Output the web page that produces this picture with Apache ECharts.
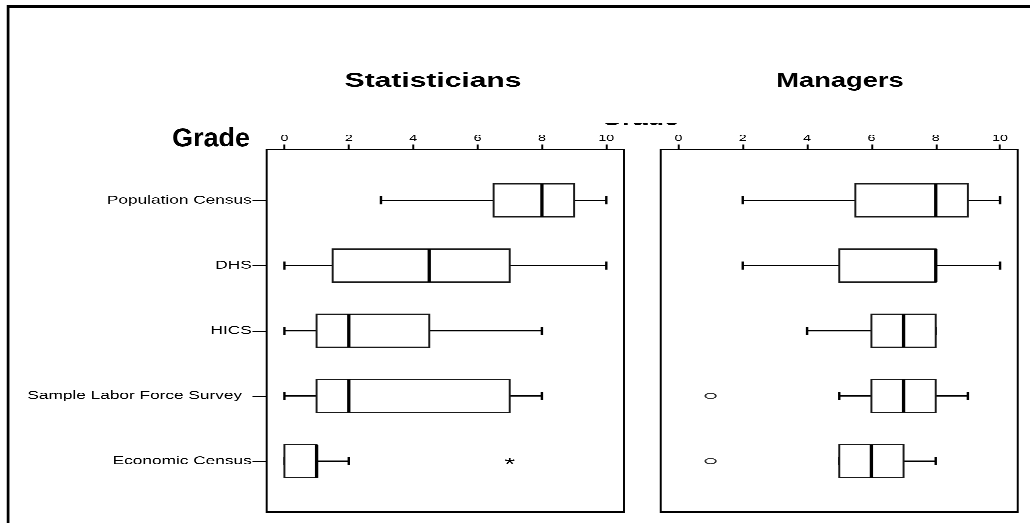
<!DOCTYPE html>
<html>
<head>
<meta charset="utf-8">
<script src="https://cdn.jsdelivr.net/npm/echarts@6/dist/echarts.min.js"></script>
<style>
  html, body { margin: 0; padding: 0; background: #fff; overflow: hidden; }
  /* the chart is laid out narrow and widened horizontally, like the original export */
  #chart { width: 686.667px; height: 523px; transform: scaleX(1.5); transform-origin: 0 0; }
</style>
</head>
<body>
<div id="chart"></div>
<script>
// Survey rows, top to bottom
const categories = ['Population Census', 'DHS', 'HICS', 'Sample Labor Force Survey  ', 'Economic Census'];
const gradeTicks = [0, 2, 4, 6, 8, 10];
const rowTicks = [1, 2, 3, 4, 5];

// Statisticians: five-number summaries per survey
const statMin    = [3,   0,   0,   0, 0];
const statQ1     = [6.5, 1.5, 1,   1, 0];
const statMedian = [8,   4.5, 2,   2, 1];
const statQ3     = [9,   7,   4.5, 7, 1];
const statMax    = [10,  10,  8,   8, 2];
// extreme values [grade, row]
const statExtremes = [[7, 5]];

// Managers: five-number summaries per survey
const mgrMin    = [2,   2, 4, 5, 5];
const mgrQ1     = [5.5, 5, 6, 6, 5];
const mgrMedian = [8,   8, 7, 7, 6];
const mgrQ3     = [9,   8, 8, 8, 7];
const mgrMax    = [10,  10, 8, 9, 8];
// outliers [grade, row]
const mgrOutliers = [[1, 4], [1, 5]];

function boxRows(mins, q1s, meds, q3s, maxs) {
  return categories.map((c, i) => [i + 1, mins[i], q1s[i], meds[i], q3s[i], maxs[i]]);
}

function seg(x1, y1, x2, y2, w) {
  return { type: 'line', shape: { x1, y1, x2, y2 }, style: { stroke: '#000', lineWidth: w } };
}

// whiskers with end caps, box from Q1 to Q3, heavy median bar
function renderBox(params, api) {
  const row = api.value(0);
  const unit = api.size([0, 1])[1];
  const half = unit * 0.253;
  const cap = unit * 0.062;
  const px = v => api.coord([v, row])[0];
  const y = api.coord([0, row])[1];
  const xLo = px(api.value(1)), xQ1 = px(api.value(2)), xMed = px(api.value(3));
  const xQ3 = px(api.value(4)), xHi = px(api.value(5));
  return {
    type: 'group',
    children: [
      seg(xLo, y, xQ1, y, 1.3),
      seg(xQ3, y, xHi, y, 1.3),
      seg(xLo, y - cap, xLo, y + cap, 1.6),
      seg(xHi, y - cap, xHi, y + cap, 1.6),
      { type: 'rect', shape: { x: xQ1, y: y - half, width: xQ3 - xQ1, height: 2 * half },
        style: { fill: '#fff', stroke: '#1a1a1a', lineWidth: 1.3 } },
      seg(xMed, y - half, xMed, y + half, 2.2)
    ]
  };
}

function renderStar(params, api) {
  const pt = api.coord([api.value(0), api.value(1)]);
  return {
    type: 'text', x: pt[0], y: pt[1] + 4,
    style: { text: '*', fontSize: 18, fontFamily: 'Liberation Sans', fill: '#000',
             align: 'center', verticalAlign: 'middle' }
  };
}

const FONT = 'Liberation Sans, Arial, sans-serif';

function gradeAxis(gridIndex) {
  return {
    gridIndex, type: 'value', position: 'top', min: -0.55, max: 10.55,
    splitLine: { show: false },
    axisLine: { show: false, onZero: false },
    axisTick: { show: true, inside: false, customValues: gradeTicks, length: 5, lineStyle: { color: '#000', width: 1.3 } },
    axisLabel: { customValues: gradeTicks, fontSize: 9.5, fontFamily: FONT, color: '#000', margin: 6 }
  };
}

function rowAxis(gridIndex, withLabels) {
  return {
    gridIndex, type: 'value', position: 'left', inverse: true, min: 0.22, max: 5.78,
    splitLine: { show: false },
    axisLine: { show: false, onZero: false },
    axisTick: { show: withLabels, inside: false, customValues: rowTicks, length: 9.5, lineStyle: { color: '#000', width: 1 } },
    axisLabel: { show: withLabels, customValues: rowTicks, fontSize: 11.5, fontFamily: FONT, color: '#000', margin: 10,
                 formatter: v => categories[Math.round(v) - 1] }
  };
}

function titleText(text, x, y, sx) {
  return { type: 'text', x, y, scaleX: sx,
    style: { text, font: 'bold 20px "Liberation Sans", Arial, sans-serif', fill: '#000',
             textAlign: 'center', textVerticalAlign: 'middle' } };
}

const chart = echarts.init(document.getElementById('chart'), null, { renderer: 'canvas', devicePixelRatio: 3 });
chart.setOption({
  animation: false,
  backgroundColor: '#fff',
  grid: [
    { left: 177.8, top: 149.5, width: 238.2, height: 362.5, show: true, borderColor: '#000', borderWidth: 1.3, backgroundColor: 'transparent' },
    { left: 440.5, top: 149.5, width: 238, height: 362.5, show: true, borderColor: '#000', borderWidth: 1.3, backgroundColor: 'transparent' }
  ],
  xAxis: [gradeAxis(0), gradeAxis(1)],
  yAxis: [rowAxis(0, true), rowAxis(1, false)],
  graphic: [
    // outer frame
    { type: 'line', shape: { x1: 5.3, y1: 6.5, x2: 700, y2: 6.5 }, style: { stroke: '#000', lineWidth: 2.4 } },
    { type: 'line', shape: { x1: 5.4, y1: 5.3, x2: 5.4, y2: 540 }, style: { stroke: '#000', lineWidth: 1.8 } },
    titleText('Statisticians', 288.7, 81, 1),
    titleText('Managers', 560, 81, 0.91),
    { type: 'text', x: 140.7, y: 139.3, scaleX: 0.69,
      style: { text: 'Grade', font: 'bold 26px "Liberation Sans", Arial, sans-serif', fill: '#000',
               textAlign: 'center', textVerticalAlign: 'middle' } },
    // second axis title, mostly hidden under the heading band
    { type: 'text', x: 426.7, y: 117.7, scaleX: 0.69, z: 1, z2: 1,
      style: { text: 'Grade', font: 'bold 26px "Liberation Sans", Arial, sans-serif', fill: '#000',
               textAlign: 'center', textVerticalAlign: 'middle' } },
    { type: 'rect', z: 5, z2: 100, shape: { x: 398, y: 95, width: 58, height: 28.3 }, style: { fill: '#ffffff' } }
  ],
  series: [
    { type: 'custom', xAxisIndex: 0, yAxisIndex: 0, renderItem: renderBox,
      encode: { x: [1, 2, 3, 4, 5], y: 0 },
      data: boxRows(statMin, statQ1, statMedian, statQ3, statMax) },
    { type: 'custom', xAxisIndex: 1, yAxisIndex: 1, renderItem: renderBox,
      encode: { x: [1, 2, 3, 4, 5], y: 0 },
      data: boxRows(mgrMin, mgrQ1, mgrMedian, mgrQ3, mgrMax) },
    { type: 'custom', xAxisIndex: 0, yAxisIndex: 0, renderItem: renderStar,
      encode: { x: 0, y: 1 }, data: statExtremes },
    { type: 'scatter', xAxisIndex: 1, yAxisIndex: 1, symbol: 'circle', symbolSize: [7, 5.5],
      itemStyle: { color: '#fff', borderColor: '#000', borderWidth: 1 },
      data: mgrOutliers }
  ]
});
</script>
</body>
</html>
